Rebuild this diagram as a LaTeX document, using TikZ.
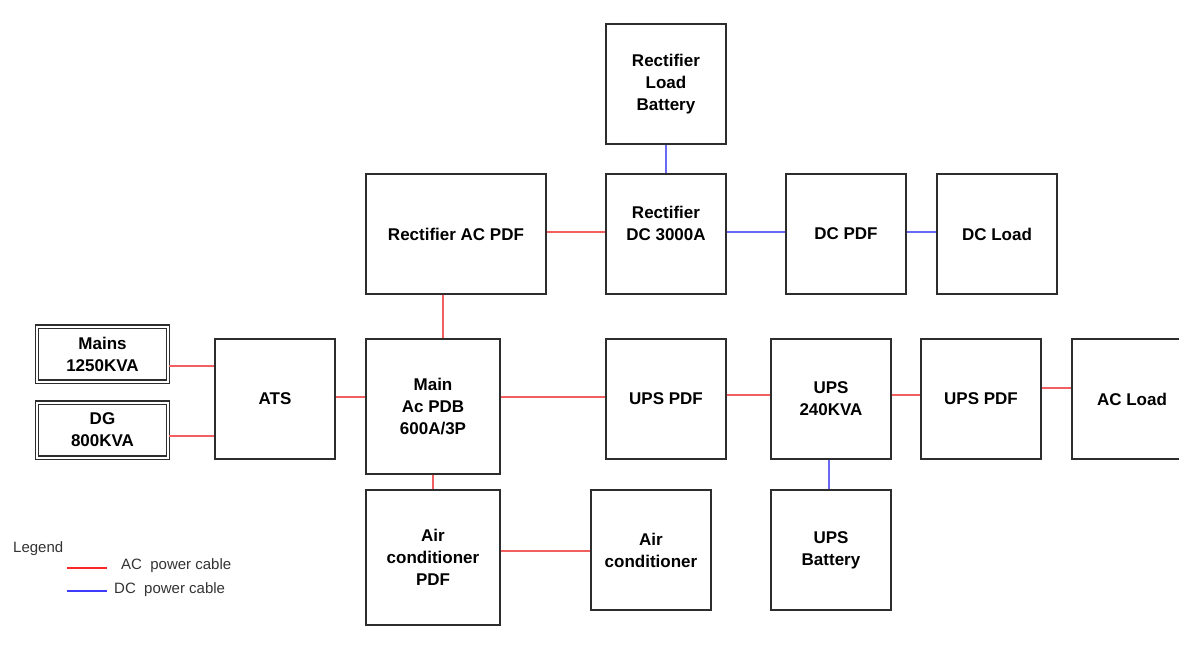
\documentclass[tikz,border=0pt]{standalone}
\usepackage{fontspec}
\setmainfont{Liberation Sans}
\definecolor{boxc}{RGB}{45,45,45}
\definecolor{acc}{RGB}{242,95,95}
\definecolor{dcc}{RGB}{105,105,245}
\definecolor{acleg}{RGB}{250,40,40}
\definecolor{dcleg}{RGB}{60,60,250}
\tikzset{
  box/.style={draw=boxc, line width=1.3pt, fill=white, align=center, inner sep=0pt,
    font=\bfseries\fontsize{17}{22}\selectfont, minimum width=120pt, minimum height=120pt},
  dbox/.style={draw=boxc, double, double distance=2pt, line width=1.4pt, align=center, inner sep=0pt,
    font=\bfseries\fontsize{17}{22}\selectfont, minimum width=131pt, minimum height=55pt},
  ac/.style={draw=acc, line width=1.8pt},
  dc/.style={draw=dcc, line width=1.8pt},
  legtext/.style={font=\fontsize{15}{17}\selectfont, inner sep=0pt, anchor=west, text=black!80}
}
\begin{document}
\begin{tikzpicture}[x=1pt,y=-1pt]
\useasboundingbox (0,0) rectangle (1179,657);
% nodes
\node[box] (rlb) at (666,84) {Rectifier\\Load\\Battery};
\node[box, minimum width=180pt] (racpdf) at (456,234) {Rectifier AC PDF};
\node[box] (rdc) at (666,234) {Rectifier\\DC 3000A\\\mbox{}};
\node[box] (dcpdf) at (846,234) {DC PDF};
\node[box] (dcload) at (997,234) {DC Load};
\node[dbox] (mains) at (102.5,354) {Mains\\1250KVA};
\node[dbox] (dg) at (102.5,430) {DG\\800KVA};
\node[box] (ats) at (275,399) {ATS};
\node[box, minimum width=134pt, minimum height=135pt] (mpdb) at (433,406.5) {Main\\Ac PDB\\600A/3P};
\node[box] (upspdfa) at (666,399) {UPS PDF};
\node[box] (ups) at (831,399) {UPS\\240KVA};
\node[box] (upspdfb) at (981,399) {UPS PDF};
\node[box] (acload) at (1132,399) {AC Load};
\node[box, minimum width=134pt, minimum height=135pt] (acpdf) at (433,557.5) {Air\\conditioner\\PDF};
\node[box] (aircon) at (651,550) {Air\\conditioner};
\node[box] (upsbat) at (831,550) {UPS\\Battery};
% connectors
\draw[dc] (rlb.south) -- (rdc.north);
\draw[ac] (racpdf.east |- 0,232) -- (rdc.west |- 0,232);
\draw[dc] (rdc.east |- 0,232) -- (dcpdf.west |- 0,232);
\draw[dc] (dcpdf.east |- 0,232) -- (dcload.west |- 0,232);
\draw[ac] (racpdf.south -| 443,0) -- (mpdb.north -| 443,0);
\draw[ac] (mains.east |- 0,366) -- (ats.west |- 0,366);
\draw[ac] (dg.east |- 0,436) -- (ats.west |- 0,436);
\draw[ac] (ats.east |- 0,397) -- (mpdb.west |- 0,397);
\draw[ac] (mpdb.east |- 0,397) -- (upspdfa.west |- 0,397);
\draw[ac] (upspdfa.east |- 0,395) -- (ups.west |- 0,395);
\draw[ac] (ups.east |- 0,395) -- (upspdfb.west |- 0,395);
\draw[ac] (upspdfb.east |- 0,388) -- (acload.west |- 0,388);
\draw[ac] (mpdb.south) -- (acpdf.north);
\draw[ac] (acpdf.east |- 0,551) -- (aircon.west |- 0,551);
\draw[dc] (ups.south -| 829,0) -- (upsbat.north -| 829,0);
% legend
\node[legtext] (leg) at (13,549) {Legend};
\coordinate (la1) at (67,568);
\coordinate (la2) at (107,568);
\coordinate (ld1) at (67,591);
\coordinate (ld2) at (107,591);
\draw[draw=acleg, line width=1.8pt] (la1) -- (la2);
\draw[draw=dcleg, line width=1.8pt] (ld1) -- (ld2);
\node[legtext] (legac) at (121,566) {AC\ \ power cable};
\node[legtext] (legdc) at (114,590) {DC\ \ power cable};
\end{tikzpicture}
\end{document}
